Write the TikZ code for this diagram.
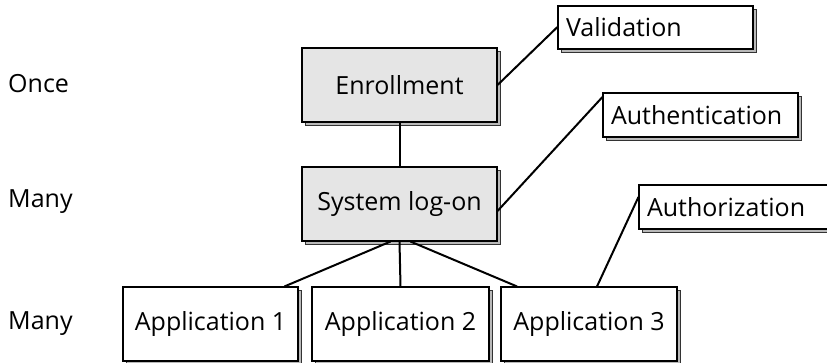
\documentclass[tikz,border=0pt]{standalone}
\usepackage{fontspec}
\setmainfont{Open Sans}
\begin{document}
\begin{tikzpicture}[x=1pt,y=-1pt,
  box/.style={draw=black,line width=1.1pt,inner sep=0pt,font=\fontsize{25}{28}\selectfont},
  graybox/.style={box,fill=gray!20},
  whitebox/.style={box,fill=white},
  lbl/.style={anchor=west,font=\fontsize{25}{28}\selectfont,inner sep=0pt},
  conn/.style={line width=2pt},
  shadowbox/.style={fill=gray!55,draw=gray!40!black,line width=0.8pt}]
\useasboundingbox (0,0) rectangle (827,363);
% shadows
\foreach \x/\y/\w/\h in {399.5/85/195/74, 399.5/204/195/74, 655.5/27.5/195/43, 700.5/115/195/44, 736.5/207/195/44, 210.5/324/175/74, 400.5/324/177/74, 589/324/176/74}
  \draw[shadowbox] (\x-\w/2+3,\y-\h/2+3) rectangle (\x+\w/2+3,\y+\h/2+3);
\node[graybox,minimum width=195,minimum height=74] (enr) at (399.5,85) {Enrollment};
\node[graybox,minimum width=195,minimum height=74] (sys) at (399.5,204) {System log-on};
\node[whitebox,minimum width=195,minimum height=43,text width=179,align=left] (val) at (655.5,27.5) {Validation};
\node[whitebox,minimum width=195,minimum height=44,text width=179,align=left] (aut) at (700.5,115) {Authentication};
\node[whitebox,minimum width=195,minimum height=44,text width=179,align=left] (azn) at (736.5,207) {Authorization};
\node[whitebox,minimum width=175,minimum height=74] (a1) at (210.5,324) {Application 1};
\node[whitebox,minimum width=177,minimum height=74] (a2) at (400.5,324) {Application 2};
\node[whitebox,minimum width=176,minimum height=74] (a3) at (589,324) {Application 3};
\node[lbl] (once) at (8,84) {Once};
\node[lbl] (many1) at (8,202) {Many};
\node[lbl] (many2) at (8,324) {Many};
\draw[conn] (enr.south) -- (sys.north);
\draw[conn] ([xshift=-9]sys.south) -- ([xshift=74]a1.north);
\draw[conn] (sys.south) -- (a2.north);
\draw[conn] ([xshift=11]sys.south) -- ([xshift=-72]a3.north);
\draw[conn] (enr.east) -- ([yshift=0.5]val.west);
\draw[conn] ([yshift=-7]sys.east) -- ([yshift=18]aut.west);
\draw[conn] ([xshift=8]a3.north) -- ([yshift=10]azn.west);
\end{tikzpicture}
\end{document}
